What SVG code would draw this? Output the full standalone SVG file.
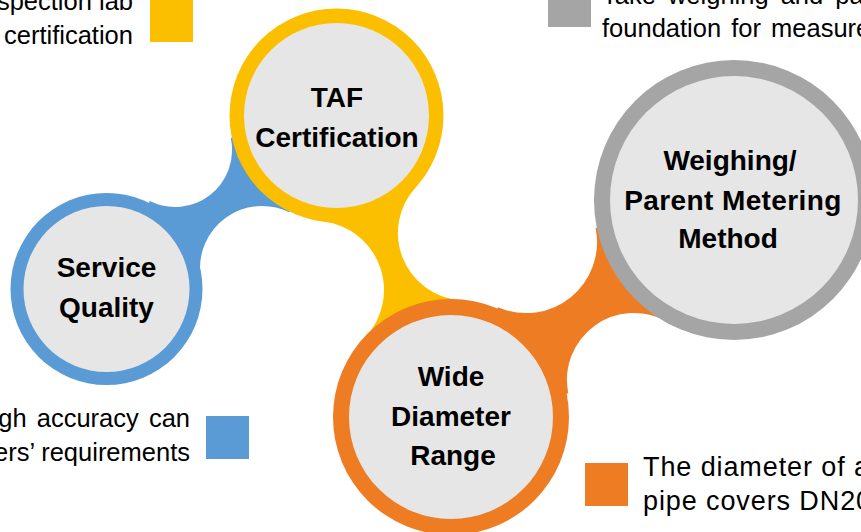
<svg xmlns="http://www.w3.org/2000/svg" width="861" height="532" viewBox="0 0 861 532">
  <style>
    .inner { fill: #E7E6E6; }
    .title { font-family: "Liberation Sans", Arial, sans-serif; font-weight: bold; font-size: 28px; fill: #000; text-anchor: middle; }
    .desc { font-family: "Liberation Sans", Arial, sans-serif; font-size: 25.5px; fill: #000; }
    .blue { fill: #5B9BD5; }
    .yellow { fill: #FBBF00; }
    .orange { fill: #EE7C22; }
    .gray { fill: #A5A5A5; }
  </style>
  <rect width="861" height="532" fill="#FFFFFF"/>

  <g id="connectors">
    <path class="blue" d="M 149.8 201.1 A 57 57 0 0 0 230.8 138.1 L 336.5 115.5 L 289.2 212.3 A 62 62 0 0 0 200.6 276.3 L 106.5 289 Z"/>
    <path class="yellow" d="M 323.4 221.5 A 69 69 0 0 1 365.4 337.1 L 451 417 L 460.2 300.3 A 67.5 67.5 0 0 1 415.6 187.5 L 336.5 115.5 Z"/>
    <path class="orange" d="M 498 307.3 A 71 71 0 0 0 595.6 227.9 L 734 200 L 666.5 321.4 A 67 67 0 0 0 568.3 393.3 L 451 417 Z"/>
  </g>

  <g id="node-service">
    <circle class="blue" cx="106.5" cy="289" r="96"/>
    <circle class="inner" cx="106.5" cy="289" r="83"/>
    <text class="title" x="106.5" y="277">Service</text>
    <text class="title" x="106.5" y="317">Quality</text>
    <rect class="blue" x="206" y="416" width="43" height="43"/>
    <text class="desc" x="190" y="427" text-anchor="end" word-spacing="3">gh accuracy can</text>
    <text class="desc" x="190" y="461" text-anchor="end">ers’ requirements</text>
  </g>

  <g id="node-taf">
    <circle class="yellow" cx="336.5" cy="115.5" r="107"/>
    <circle class="inner" cx="336.5" cy="115.5" r="92.5"/>
    <text class="title" x="337" y="107">TAF</text>
    <text class="title" x="337" y="147">Certification</text>
    <rect class="yellow" x="150" y="-1" width="43" height="43"/>
    <text class="desc" x="133" y="10" text-anchor="end">spection lab</text>
    <text class="desc" x="133" y="44" text-anchor="end">certification</text>
  </g>

  <g id="node-range">
    <circle class="orange" cx="451" cy="417" r="118"/>
    <circle class="inner" cx="451" cy="417" r="102"/>
    <text class="title" x="451" y="386">Wide</text>
    <text class="title" x="451" y="426">Diameter</text>
    <text class="title" x="453" y="465">Range</text>
    <rect class="orange" x="585" y="463" width="43" height="43"/>
    <text class="desc" x="643" y="476" style="font-size:27px" letter-spacing="0.9">The diameter of a</text>
    <text class="desc" x="643" y="510" style="font-size:27px" letter-spacing="0.9">pipe covers DN20</text>
  </g>

  <g id="node-weighing">
    <circle class="gray" cx="734" cy="200" r="140"/>
    <circle class="inner" cx="734" cy="200" r="124"/>
    <text class="title" x="730" y="170">Weighing/</text>
    <text class="title" x="733" y="210" letter-spacing="0.4">Parent Metering</text>
    <text class="title" x="728" y="248">Method</text>
    <rect class="gray" x="548" y="-16" width="43" height="43"/>
    <text class="desc" x="602" y="4" word-spacing="5">Take weighing and pa</text>
    <text class="desc" x="602" y="37" word-spacing="3">foundation for measure</text>
  </g>
</svg>
